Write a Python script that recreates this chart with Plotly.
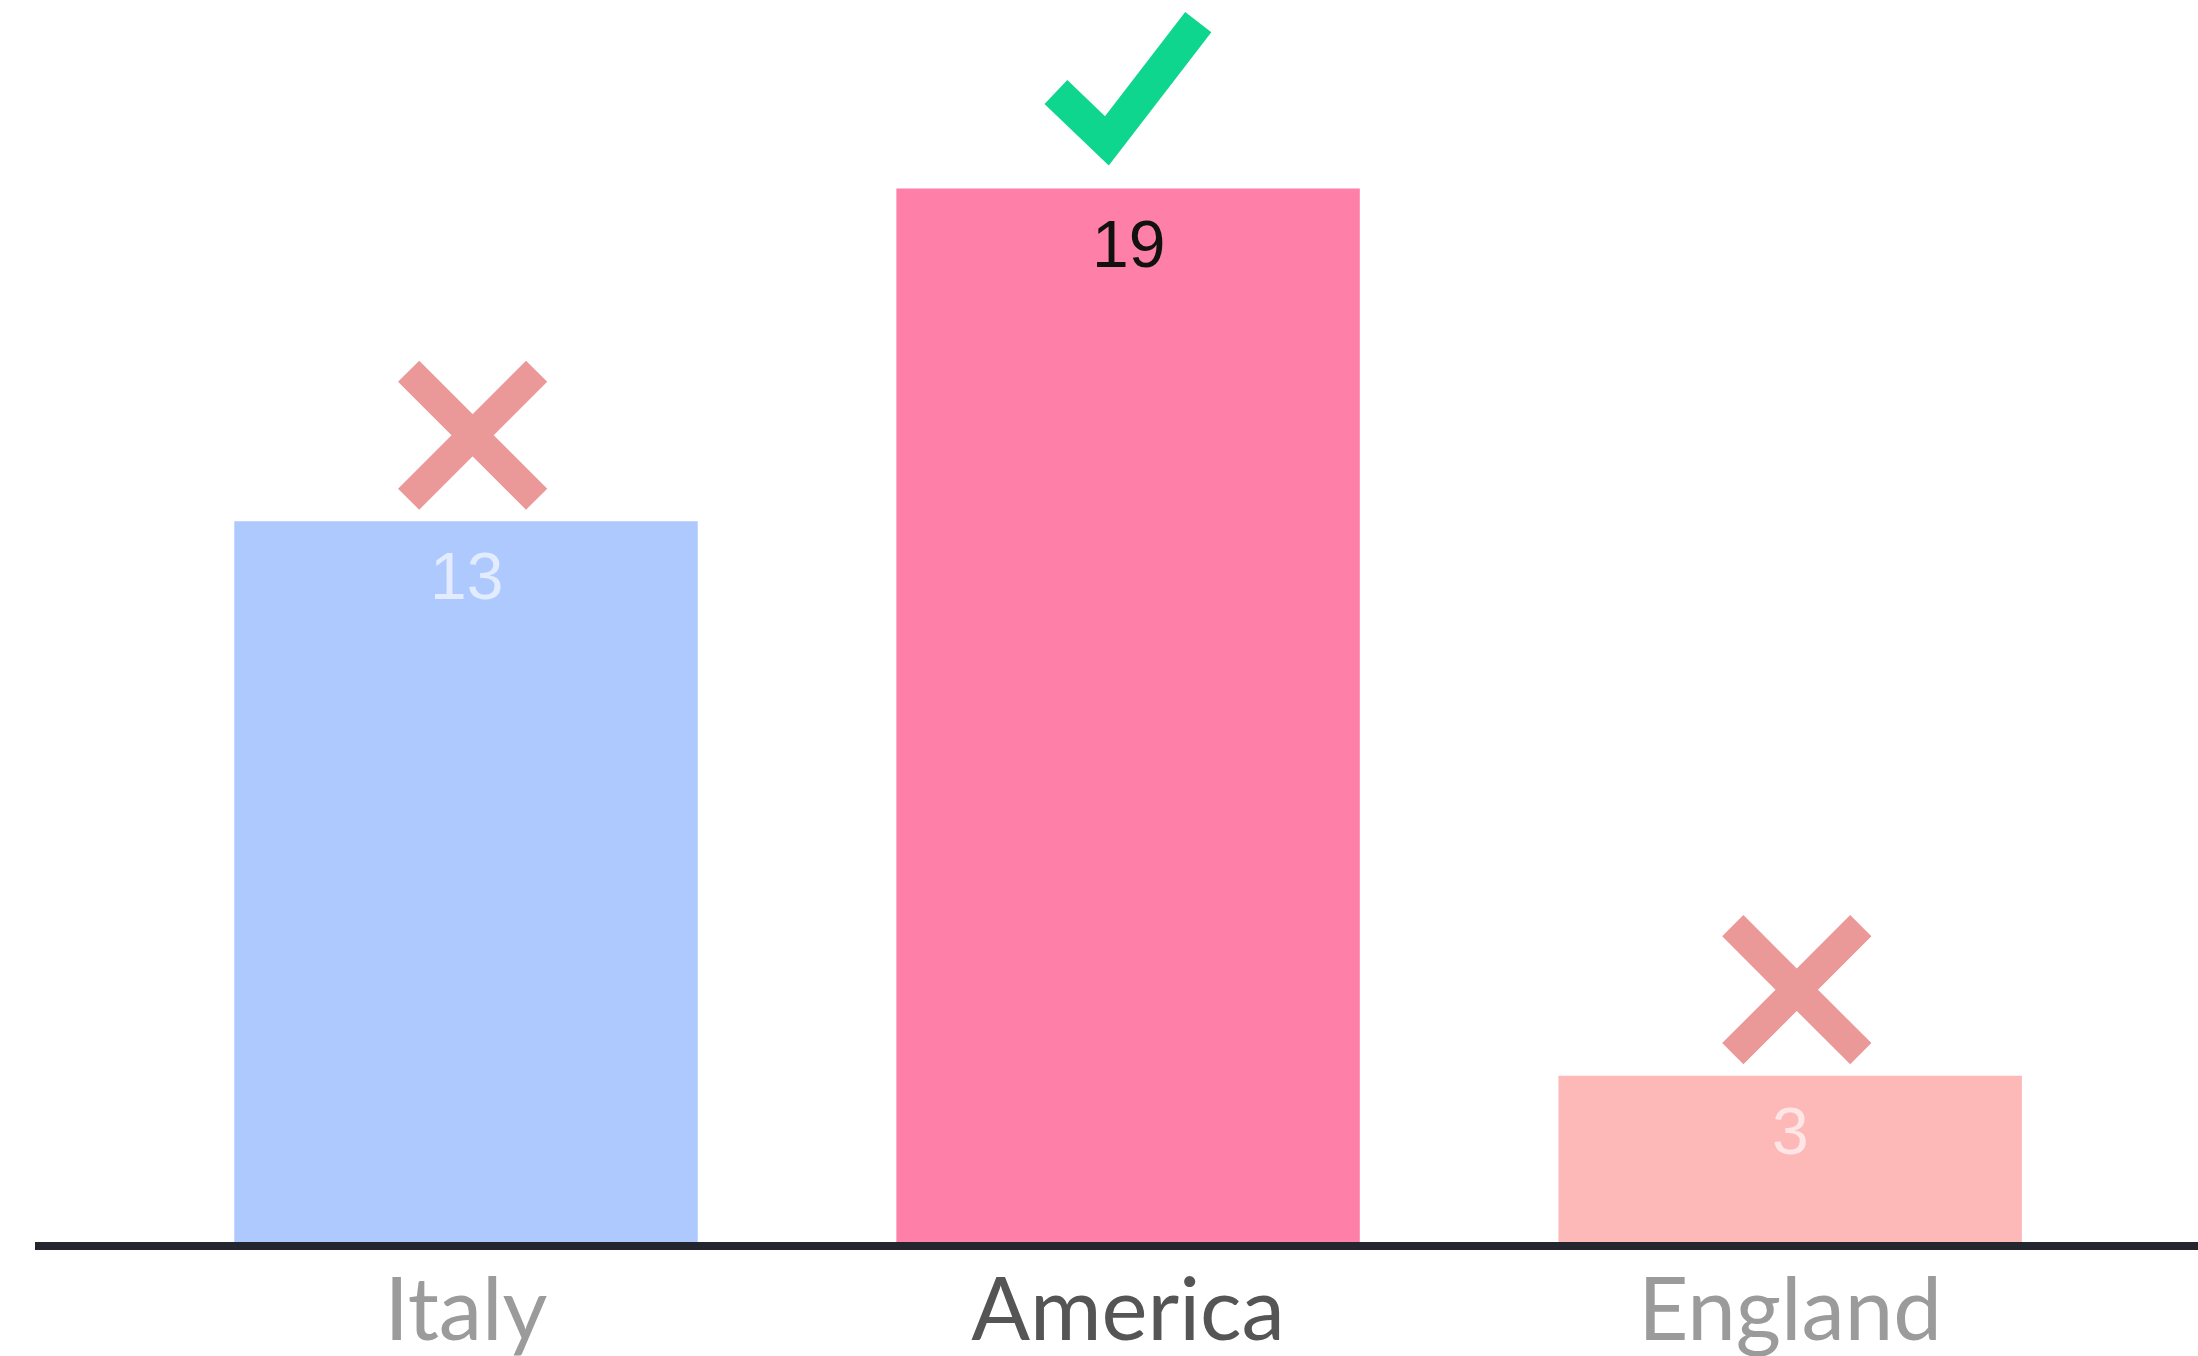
import plotly.graph_objects as go

# data
countries = ["Italy", "America", "England"]
values = [13, 19, 3]
bar_colors = ["#adc9fd", "#fe80a8", "#fdb8b8"]
label_colors = ["rgba(255,255,255,0.65)", "#111111", "rgba(255,255,255,0.65)"]
tick_colors = ["#9b9b9b", "#555555", "#9b9b9b"]
is_winner = [False, True, False]

positions = list(range(len(countries)))

fig = go.Figure()

fig.add_trace(
    go.Bar(
        x=positions,
        y=values,
        width=0.7,
        marker=dict(color=bar_colors, line=dict(width=0)),
        hoverinfo="skip",
    )
)

# value labels just under the top of each bar
for p, v, c in zip(positions, values, label_colors):
    fig.add_annotation(
        x=p,
        y=v,
        text=str(v),
        showarrow=False,
        yanchor="top",
        yshift=-16,
        font=dict(family="Liberation Sans", size=66, color=c),
    )

# cross marks above the losing bars
lose_x = [p + 0.01 for p, w in zip(positions, is_winner) if not w]
lose_y = [v + 1.55 for v, w in zip(values, is_winner) if not w]
fig.add_trace(
    go.Scatter(
        x=lose_x,
        y=lose_y,
        mode="markers",
        marker=dict(
            symbol="x-thin",
            size=128,
            line=dict(color="#eb9898", width=30),
        ),
        hoverinfo="skip",
    )
)

# check mark above the winning bar (glyph offsets relative to the bar top)
check_dx = [-0.109, -0.032, 0.106]
check_dy = [1.74, 0.86, 3.0]
for p, v, w in zip(positions, values, is_winner):
    if w:
        fig.add_trace(
            go.Scatter(
                x=[p + dx for dx in check_dx],
                y=[v + dy for dy in check_dy],
                mode="lines",
                line=dict(color="#0ed68f", width=33),
                hoverinfo="skip",
            )
        )

ticktext = [
    f"<span style='color:{c}'>{name}</span>" for name, c in zip(countries, tick_colors)
]

fig.update_layout(
    width=2198,
    height=1356,
    paper_bgcolor="white",
    plot_bgcolor="white",
    showlegend=False,
    margin=dict(l=35, r=0, t=0, b=114),
    xaxis=dict(
        range=[-0.651, 2.616],
        tickvals=positions,
        ticktext=ticktext,
        showgrid=False,
        zeroline=False,
        showline=True,
        linecolor="#23262f",
        linewidth=8,
        ticks="",
        ticklabelstandoff=-14,
        automargin=False,
        tickfont=dict(family="Lato", size=87, color="#9b9b9b"),
        fixedrange=True,
    ),
    yaxis=dict(
        range=[0, 22.4],
        visible=False,
        showgrid=False,
        zeroline=False,
        fixedrange=True,
    ),
)

fig.write_html(
    "out.html",
    config={"displayModeBar": False},
    post_script="document.body.style.margin='0';",
)
